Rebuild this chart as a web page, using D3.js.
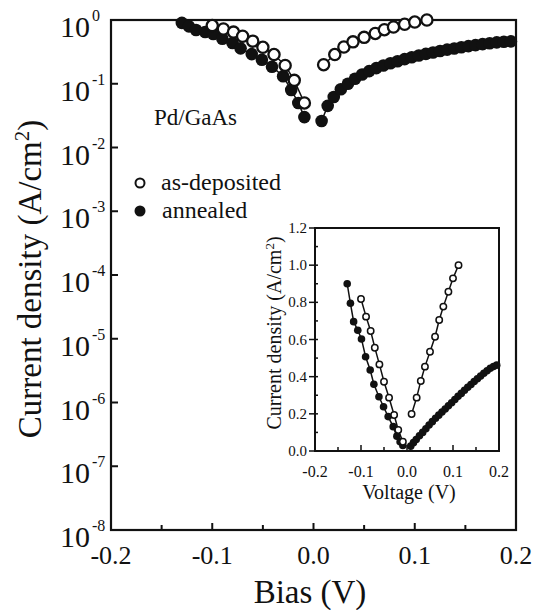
<!DOCTYPE html>
<html>
<head>
<meta charset="utf-8">
<script src="https://cdn.jsdelivr.net/npm/d3@7"></script>
<style>
  body { margin: 0; background: #fff; }
  svg { display: block; }
  text { font-family: "Liberation Serif", "Times New Roman", serif; fill: #111; }
</style>
</head>
<body>
<div id="chart-area"></div>
<script>
// data: [bias (V), current density (A/cm^2)]
var asDepositedNeg = [
    [-0.100, 0.818], [-0.089, 0.723], [-0.079, 0.646], [-0.070, 0.556],
    [-0.060, 0.466], [-0.050, 0.373], [-0.039, 0.287], [-0.028, 0.194],
    [-0.019, 0.113], [-0.009, 0.050]
];
var asDepositedPos = [
    [0.010, 0.199], [0.021, 0.287], [0.030, 0.377], [0.039, 0.454],
    [0.050, 0.534], [0.061, 0.615], [0.070, 0.705], [0.079, 0.777],
    [0.090, 0.857], [0.100, 0.929], [0.112, 1.000]
];
var annealedNeg = [
    [-0.130, 0.900], [-0.123, 0.795], [-0.116, 0.696], [-0.107, 0.650],
    [-0.099, 0.603], [-0.090, 0.507], [-0.080, 0.436], [-0.072, 0.359],
    [-0.061, 0.292], [-0.051, 0.238], [-0.041, 0.185], [-0.030, 0.131],
    [-0.022, 0.080], [-0.015, 0.050], [-0.009, 0.030]
];
var annealedPos = [
    [0.008, 0.026], [0.014, 0.045], [0.020, 0.062], [0.027, 0.082],
    [0.034, 0.100], [0.041, 0.120], [0.048, 0.140], [0.055, 0.158],
    [0.062, 0.176], [0.069, 0.193], [0.076, 0.210], [0.083, 0.226],
    [0.090, 0.243], [0.097, 0.260], [0.104, 0.277], [0.111, 0.294],
    [0.118, 0.310], [0.125, 0.327], [0.132, 0.343], [0.139, 0.358],
    [0.146, 0.374], [0.153, 0.389], [0.160, 0.403], [0.167, 0.418],
    [0.174, 0.432], [0.181, 0.445], [0.188, 0.455], [0.195, 0.462]
];

var decades = [0, -1, -2, -3, -4, -5, -6, -7, -8];
var biasLabels = [-0.2, -0.1, 0.0, 0.1, 0.2];
var biasMinor = [-0.15, -0.05, 0.05, 0.15];
var insetYLabels = [0, 0.2, 0.4, 0.6, 0.8, 1.0, 1.2];
var insetYMinor = [0.1, 0.3, 0.5, 0.7, 0.9, 1.1];

var fmt = function(d){ return d3.format(".1f")(d).replace("\u2212", "-"); };

var svg = d3.select("#chart-area").append("svg")
    .attr("width", 533)
    .attr("height", 610);

// ---------- main log plot ----------
var x = d3.scaleLinear().domain([-0.2, 0.2]).range([111, 516]);
var y = d3.scaleLog().domain([1e-8, 1]).range([530, 20]);

svg.append("rect")
    .attr("x", 111).attr("y", 20)
    .attr("width", 405).attr("height", 510)
    .attr("fill", "none").attr("stroke", "#111").attr("stroke-width", 2.2);

// y ticks (inward)
svg.selectAll(".ytick").data(decades).enter().append("line")
    .attr("x1", 111).attr("x2", 118)
    .attr("y1", function(d){ return y(Math.pow(10, d)); })
    .attr("y2", function(d){ return y(Math.pow(10, d)); })
    .attr("stroke", "#111").attr("stroke-width", 2);

var ylab = svg.selectAll(".ylab").data(decades).enter().append("text")
    .attr("x", 60)
    .attr("y", function(d){ return y(Math.pow(10, d)) + 17; })
    .attr("font-size", "30px");
ylab.append("tspan").text("10");
ylab.append("tspan")
    .attr("dx", 2)
    .attr("dy", -16)
    .attr("font-size", "16px")
    .text(function(d){ return d; });

// x ticks (inward)
svg.selectAll(".xtick").data(biasLabels.slice(1, 4)).enter().append("line")
    .attr("x1", function(d){ return x(d); })
    .attr("x2", function(d){ return x(d); })
    .attr("y1", 530).attr("y2", 523)
    .attr("stroke", "#111").attr("stroke-width", 2);
svg.selectAll(".xminor").data(biasMinor).enter().append("line")
    .attr("x1", function(d){ return x(d); })
    .attr("x2", function(d){ return x(d); })
    .attr("y1", 530).attr("y2", 525)
    .attr("stroke", "#111").attr("stroke-width", 2);

svg.selectAll(".xlab").data(biasLabels).enter().append("text")
    .attr("x", function(d){ return x(d); })
    .attr("y", 564)
    .attr("text-anchor", "middle")
    .attr("font-size", "26px")
    .text(fmt);

svg.append("text")
    .attr("x", 310).attr("y", 603)
    .attr("text-anchor", "middle")
    .attr("font-size", "33px")
    .text("Bias (V)");

var yTitle = svg.append("text")
    .attr("transform", "translate(41,279) rotate(-90)")
    .attr("text-anchor", "middle")
    .attr("font-size", "33px");
yTitle.append("tspan").text("Current density (A/cm");
yTitle.append("tspan").attr("dy", -12).attr("font-size", "21px").text("2");
yTitle.append("tspan").attr("dy", 12).text(")");

var logLine = d3.line()
    .x(function(d){ return x(d[0]); })
    .y(function(d){ return y(d[1]); });

[annealedNeg, annealedPos, asDepositedNeg, asDepositedPos].forEach(function(s){
    svg.append("path").datum(s)
        .attr("d", logLine)
        .attr("fill", "none").attr("stroke", "#111").attr("stroke-width", 1.5);
});

svg.selectAll(".annMain").data(annealedNeg.concat(annealedPos)).enter().append("circle")
    .attr("cx", function(d){ return x(d[0]); })
    .attr("cy", function(d){ return y(d[1]); })
    .attr("r", 6.3)
    .attr("fill", "#111");

svg.selectAll(".depMain").data(asDepositedNeg.concat(asDepositedPos)).enter().append("circle")
    .attr("cx", function(d){ return x(d[0]); })
    .attr("cy", function(d){ return y(d[1]); })
    .attr("r", 5.6)
    .attr("fill", "#fff").attr("stroke", "#111").attr("stroke-width", 2.3);

// labels and legend
svg.append("text")
    .attr("x", 154).attr("y", 125)
    .attr("font-size", "23px")
    .text("Pd/GaAs");

svg.append("circle")
    .attr("cx", 140).attr("cy", 183).attr("r", 4.5)
    .attr("fill", "#fff").attr("stroke", "#111").attr("stroke-width", 2);
svg.append("text")
    .attr("x", 161).attr("y", 190)
    .attr("font-size", "24px")
    .text("as-deposited");

svg.append("circle")
    .attr("cx", 140).attr("cy", 211).attr("r", 5.5)
    .attr("fill", "#111");
svg.append("text")
    .attr("x", 162).attr("y", 218)
    .attr("font-size", "24px")
    .text("annealed");

// ---------- inset, linear ----------
var xi = d3.scaleLinear().domain([-0.2, 0.2]).range([315, 499]);
var yi = d3.scaleLinear().domain([0, 1.2]).range([451, 228]);

svg.append("rect")
    .attr("x", 315).attr("y", 228)
    .attr("width", 184).attr("height", 223)
    .attr("fill", "#fff").attr("stroke", "#111").attr("stroke-width", 2);

svg.selectAll(".iytick").data(insetYLabels).enter().append("line")
    .attr("x1", 309).attr("x2", 318)
    .attr("y1", function(d){ return yi(d); })
    .attr("y2", function(d){ return yi(d); })
    .attr("stroke", "#111").attr("stroke-width", 1.5);
svg.selectAll(".iyminor").data(insetYMinor).enter().append("line")
    .attr("x1", 315).attr("x2", 318)
    .attr("y1", function(d){ return yi(d); })
    .attr("y2", function(d){ return yi(d); })
    .attr("stroke", "#111").attr("stroke-width", 1.5);

svg.selectAll(".iylab").data(insetYLabels).enter().append("text")
    .attr("x", 307)
    .attr("y", function(d){ return yi(d) + 5; })
    .attr("text-anchor", "end")
    .attr("font-size", "15px")
    .text(fmt);

svg.selectAll(".ixtick").data(biasLabels.slice(1, 4)).enter().append("line")
    .attr("x1", function(d){ return xi(d); })
    .attr("x2", function(d){ return xi(d); })
    .attr("y1", 451).attr("y2", 445)
    .attr("stroke", "#111").attr("stroke-width", 1.5);
svg.selectAll(".ixminor").data(biasMinor).enter().append("line")
    .attr("x1", function(d){ return xi(d); })
    .attr("x2", function(d){ return xi(d); })
    .attr("y1", 451).attr("y2", 447)
    .attr("stroke", "#111").attr("stroke-width", 1.5);

svg.selectAll(".ixlab").data(biasLabels).enter().append("text")
    .attr("x", function(d){ return xi(d); })
    .attr("y", 477)
    .attr("text-anchor", "middle")
    .attr("font-size", "16px")
    .text(fmt);

svg.append("text")
    .attr("x", 409).attr("y", 499)
    .attr("text-anchor", "middle")
    .attr("font-size", "20px")
    .text("Voltage (V)");

var iyTitle = svg.append("text")
    .attr("transform", "translate(281,333) rotate(-90)")
    .attr("text-anchor", "middle")
    .attr("font-size", "20px");
iyTitle.append("tspan").text("Current density (A/cm");
iyTitle.append("tspan").attr("dy", -7).attr("font-size", "13px").text("2");
iyTitle.append("tspan").attr("dy", 7).text(")");

var linLine = d3.line()
    .x(function(d){ return xi(d[0]); })
    .y(function(d){ return yi(d[1]); });

[annealedNeg, annealedPos, asDepositedNeg, asDepositedPos].forEach(function(s){
    svg.append("path").datum(s)
        .attr("d", linLine)
        .attr("fill", "none").attr("stroke", "#111").attr("stroke-width", 1.5);
});

svg.selectAll(".annInset").data(annealedNeg.concat(annealedPos)).enter().append("circle")
    .attr("cx", function(d){ return xi(d[0]); })
    .attr("cy", function(d){ return yi(d[1]); })
    .attr("r", 3.8)
    .attr("fill", "#111");

svg.selectAll(".depInset").data(asDepositedNeg.concat(asDepositedPos)).enter().append("circle")
    .attr("cx", function(d){ return xi(d[0]); })
    .attr("cy", function(d){ return yi(d[1]); })
    .attr("r", 3.2)
    .attr("fill", "#fff").attr("stroke", "#111").attr("stroke-width", 1.5);
</script>
</body>
</html>
